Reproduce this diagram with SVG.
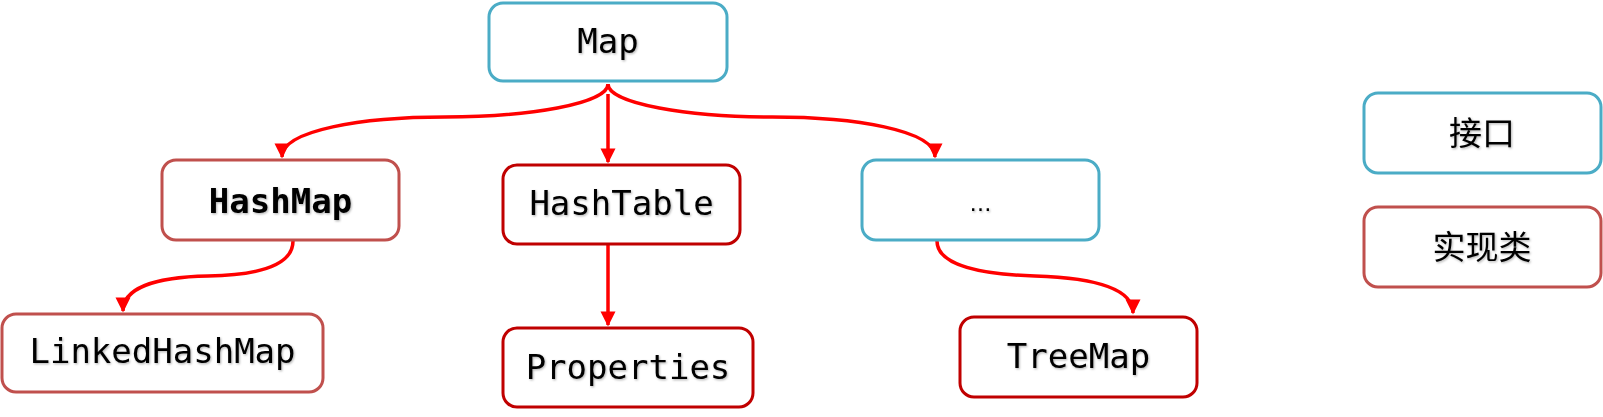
<svg xmlns="http://www.w3.org/2000/svg" width="1603" height="417" viewBox="0 0 1603 417">
<style>
.box{fill:#fff;stroke-width:3}
.iface{stroke:#4BACC6}
.impl{stroke:#C0504D}
.impl2{stroke:#C00000}
.lbl{font-family:"DejaVu Sans Mono","Liberation Mono",monospace;font-size:34px;fill:#000;text-anchor:middle;filter:url(#sh)}
.cjk{font-family:"Noto Sans CJK SC","Noto Sans",sans-serif;font-size:33px;fill:#000;text-anchor:middle;filter:url(#sh)}
.conn path{fill:none;stroke:#FF0000;stroke-width:3.5;marker-end:url(#ah)}
</style>
<defs>
<marker id="ah" viewBox="0 0 10 10" refX="9" refY="5" markerWidth="4.3" markerHeight="4.3" orient="auto" markerUnits="strokeWidth">
<path d="M0,0 L10,5 L0,10 z" fill="#FF0000"/>
</marker>
<filter id="sh" x="-10%" y="-20%" width="120%" height="140%">
<feDropShadow dx="1" dy="1.2" stdDeviation="0.8" flood-color="#000" flood-opacity="0.3"/>
</filter>
</defs>
<g id="connectors" class="conn">
<path d="M608,84 C608,104 527,117 445,117 C363,117 282,130 282,157"/>
<path d="M608,84 C608,104 690,117 772,117 C854,117 935,130 935,157"/>
<path d="M608,94 L608,162"/>
<path d="M608,244 L608,325"/>
<path d="M293,241 C293,265 260,275 208,276 C155,277 123,288 123,311"/>
<path d="M937,241 C937,262 970,274 1035,276 C1100,278 1133,290 1133,313"/>
</g>
<g id="node-map">
<rect class="box iface" x="489" y="3" width="238" height="78" rx="14"/>
<text class="lbl" x="608" y="53">Map</text>
</g>
<g id="node-hashmap">
<rect class="box impl" x="162" y="160" width="237" height="80" rx="14"/>
<text class="lbl" x="280.5" y="213" font-weight="bold">HashMap</text>
</g>
<g id="node-hashtable">
<rect class="box impl2" x="503" y="165" width="237" height="79" rx="14"/>
<text class="lbl" x="621.5" y="215">HashTable</text>
</g>
<g id="node-other">
<rect class="box iface" x="862" y="160" width="237" height="80" rx="14"/>
<text class="lbl" x="980.5" y="211" style="font-family:'DejaVu Sans',sans-serif;font-size:22px">…</text>
</g>
<g id="node-linkedhashmap">
<rect class="box impl" x="2" y="314" width="321" height="78" rx="14"/>
<text class="lbl" x="162.5" y="363">LinkedHashMap</text>
</g>
<g id="node-properties">
<rect class="box impl2" x="503" y="328" width="250" height="79" rx="14"/>
<text class="lbl" x="628" y="379">Properties</text>
</g>
<g id="node-treemap">
<rect class="box impl2" x="960" y="317" width="237" height="80" rx="14"/>
<text class="lbl" x="1078.5" y="368">TreeMap</text>
</g>
<g id="legend-interface">
<rect class="box iface" x="1364" y="93" width="237" height="80" rx="14"/>
<text class="cjk" x="1482" y="145">接口</text>
</g>
<g id="legend-impl">
<rect class="box impl" x="1364" y="207" width="237" height="80" rx="14"/>
<text class="cjk" x="1482" y="259">实现类</text>
</g>
</svg>
